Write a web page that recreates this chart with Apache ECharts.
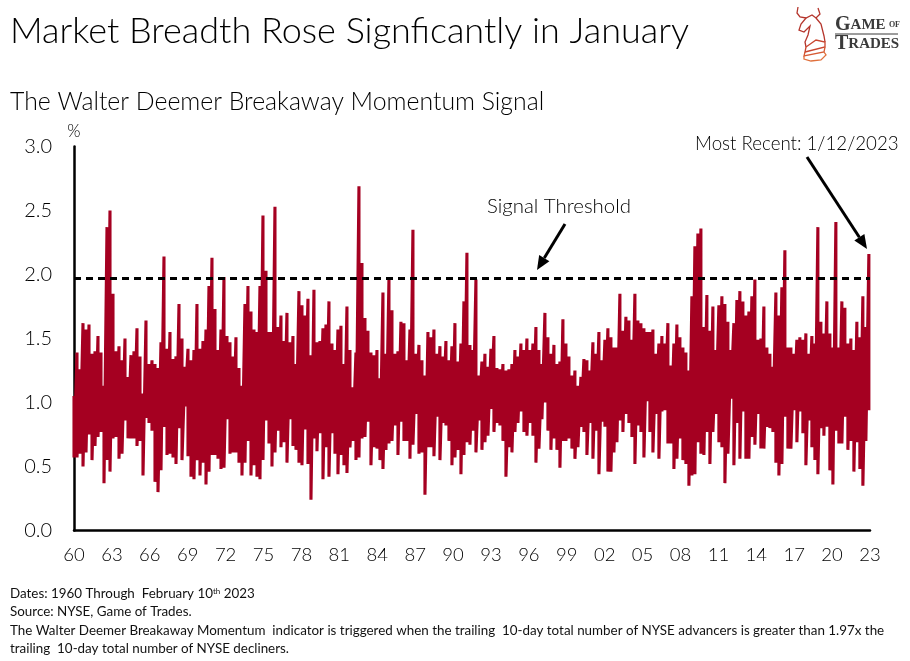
<!DOCTYPE html>
<html>
<head>
<meta charset="utf-8">
<title>Market Breadth</title>
<script src="https://cdn.jsdelivr.net/npm/echarts@6/dist/echarts.min.js"></script>
<style>
html, body { margin: 0; padding: 0; background: #fff; }
#main { width: 910px; height: 661px; }
</style>
</head>
<body>
<div id="main"></div>
<script>
// peaks and troughs, left to right, 1960 -> 2023
var highs = [
    1.05, 1.39, 1.26, 1.62, 1.57, 1.61, 1.38, 1.40, 1.52, 1.39, 1.13, 2.37, 2.50, 1.85, 1.40, 1.44, 1.33, 1.50, 1.20, 1.37,
    1.40, 1.58, 1.36, 1.07, 1.64, 1.30, 1.33, 1.30, 1.27, 1.47, 2.14, 1.42, 1.55, 1.34, 1.36, 1.77, 1.50, 1.28, 1.42, 1.33,
    1.41, 1.77, 1.42, 1.48, 1.57, 1.91, 2.13, 1.73, 1.41, 1.57, 1.98, 1.52, 1.47, 1.36, 1.51, 1.27, 1.13, 1.77, 1.91, 1.71,
    1.57, 1.55, 1.91, 2.46, 2.03, 1.55, 1.55, 2.53, 1.59, 1.68, 1.48, 1.70, 1.47, 1.52, 1.30, 1.87, 1.76, 1.68, 1.81, 1.37,
    1.88, 1.47, 1.48, 1.58, 1.61, 1.79, 1.46, 1.41, 1.57,
    1.60, 1.30, 1.75, 1.41, 1.12, 1.39, 2.69, 2.09, 1.66, 1.56, 1.39, 1.37, 1.41, 1.19, 1.86, 1.38, 1.96, 1.72, 1.38, 1.40,
    1.63, 1.62, 1.33, 1.57, 2.35, 1.38, 1.45, 1.33, 1.21, 1.55, 1.51, 1.57, 1.38, 1.44, 1.36, 1.48, 1.33, 1.44, 1.62, 1.32,
    1.46, 1.79, 2.17, 1.45, 1.41, 1.96, 1.21, 1.32, 1.38, 1.28, 1.42, 1.52, 1.27, 1.26, 1.30, 1.25, 1.26, 1.30, 1.41, 1.36,
    1.46, 1.41, 1.50, 1.41, 1.46, 1.59, 1.41, 1.30, 1.70, 1.51, 1.38, 1.45, 1.30, 1.32, 1.65, 1.46, 1.36, 1.21, 1.25, 1.13,
    1.20, 1.34, 1.33, 1.25, 1.47, 1.38, 1.55, 1.33, 1.49, 1.58,
    1.51, 1.43, 1.43, 1.85, 1.56, 1.67, 1.64, 1.49, 1.85, 1.64, 1.62, 1.58, 1.55, 1.55, 1.57, 1.38, 1.46, 1.52, 1.46, 1.62,
    1.29, 1.46, 1.61, 1.51, 1.43, 1.39, 1.25, 1.83, 2.22, 2.32, 2.36, 1.59, 1.84, 1.56, 1.75, 1.41, 1.76, 1.83, 1.77, 1.63,
    1.41, 1.62, 1.80, 1.87, 1.79, 1.68, 1.71, 1.83, 1.96, 1.49, 1.50, 1.75, 1.43, 1.38, 1.28, 1.86, 1.68, 1.90, 2.19, 1.43,
    1.43, 1.38, 1.49, 1.51, 1.49, 1.54, 1.38, 1.52, 1.46, 2.37, 1.63, 1.54, 1.79, 1.54, 1.43, 2.41, 1.43, 1.79, 1.74, 1.46,
    1.50, 1.41, 1.63, 1.51, 1.83, 1.59, 2.16
];
var lows = [
    0.57, 0.57, 0.60, 0.50, 0.61, 0.75, 0.55, 0.66, 0.73, 0.77, 0.37, 0.55, 0.46, 0.72, 0.73, 0.56, 0.60, 0.86, 0.72, 0.72,
    0.72, 0.66, 0.70, 0.43, 0.88, 0.84, 0.78, 0.38, 0.30, 0.47, 0.81, 0.59, 0.60, 0.57, 0.52, 0.80, 0.55, 0.97, 0.58, 0.42,
    0.40, 0.55, 0.43, 0.53, 0.36, 0.46, 0.59, 0.59, 0.56, 0.48, 0.49, 0.87, 0.60, 0.61, 0.61, 0.53, 0.43, 0.53, 0.70, 0.43,
    0.51, 0.42, 0.40, 0.55, 0.86, 0.68, 0.50, 0.61, 0.78, 0.65, 0.69, 0.53, 0.87, 0.66, 0.63, 0.53, 0.51, 0.79, 0.52, 0.24,
    0.72, 0.62, 0.76, 0.40, 0.65, 0.42, 0.76, 0.60, 0.44,
    0.59, 0.51, 0.45, 0.65, 0.70, 0.55, 0.57, 0.72, 0.73, 0.85, 0.51, 0.65, 0.64, 0.55, 0.48, 0.63, 0.68, 0.70, 0.82, 0.59,
    0.85, 0.70, 0.70, 0.56, 0.67, 0.91, 0.60, 0.61, 0.28, 0.65, 0.65, 0.58, 0.89, 0.55, 0.84, 0.82, 0.70, 0.51, 0.57, 0.63,
    0.44, 0.59, 0.69, 0.67, 0.78, 0.61, 0.86, 0.63, 0.69, 0.74, 0.95, 0.77, 0.84, 0.82, 0.70, 0.42, 0.65, 0.61, 0.77, 0.84,
    0.93, 0.77, 0.74, 0.84, 0.74, 0.53, 0.64, 0.87, 1.00, 0.78, 0.63, 0.72, 0.63, 0.49, 0.70, 0.70, 0.72, 0.64, 0.56, 0.65,
    0.81, 0.77, 0.59, 0.84, 0.56, 0.78, 0.44, 0.85, 0.81, 0.46,
    0.46, 0.61, 0.69, 0.86, 0.77, 0.91, 0.84, 0.73, 0.52, 0.82, 0.77, 0.57, 1.01, 0.77, 0.61, 0.91, 0.56, 0.93, 0.94, 0.68,
    0.68, 0.48, 0.56, 0.72, 0.55, 0.52, 0.35, 0.43, 0.44, 0.69, 0.60, 0.59, 0.77, 0.52, 0.77, 0.91, 0.69, 0.65, 0.37, 0.60,
    1.03, 0.51, 0.84, 0.56, 0.93, 0.56, 0.56, 0.73, 0.67, 0.91, 0.64, 0.64, 0.81, 0.80, 0.77, 0.53, 0.43, 0.52, 0.89, 0.64,
    0.64, 0.94, 0.69, 0.93, 0.76, 0.51, 0.86, 0.65, 0.55, 0.44, 0.80, 0.74, 0.81, 0.47, 0.36, 0.78, 0.68, 0.68, 0.89, 0.63,
    0.70, 0.46, 0.69, 0.48, 0.35, 0.70, 0.94
];
var yearTicks = ['60', '63', '66', '69', '72', '75', '78', '81', '84', '87', '90', '93', '96', '99', '02', '05', '08', '11', '14', '17', '20', '23'];
var thresholdValue = 1.97;
var footnotes = [
    '{n|Dates: 1960 Through  February 10}{s|th}{n| 2023}',
    '{n|Source: NYSE, Game of Trades.}',
    '{n|The Walter Deemer Breakaway Momentum  indicator is triggered when the trailing  10-day total number of NYSE advancers is greater than 1.97x the}',
    '{n|trailing  10-day total number of NYSE decliners.}'
];

var FONT = 'Lato';
var RED = '#a50021';
var YEARS_PER_COLUMN = 0.2374; // about 4 columns a year

// line goes peak -> trough -> next peak, like the daily readings do
var breadth = [];
for (var i = 0; i < highs.length; i++) {
    breadth.push([i * YEARS_PER_COLUMN, highs[i]]);
    breadth.push([i * YEARS_PER_COLUMN, lows[i]]);
}

function arrow(x1, y1, x2, y2) {
    var a = Math.atan2(y2 - y1, x2 - x1);
    var len = 14, wid = 6;
    var bx = x2 - len * Math.cos(a), by = y2 - len * Math.sin(a);
    return [
        {type: 'line', shape: {x1: x1, y1: y1, x2: bx, y2: by}, style: {stroke: '#000', lineWidth: 3}},
        {type: 'polygon', shape: {points: [
            [x2, y2],
            [bx + wid * Math.sin(a), by - wid * Math.cos(a)],
            [bx - wid * Math.sin(a), by + wid * Math.cos(a)]
        ]}, style: {fill: '#000'}}
    ];
}

function label(text, x, y, size) {
    return {type: 'text', x: x, y: y, style: {text: text, font: '300 ' + size + 'px ' + FONT, fill: '#000', textVerticalAlign: 'middle'}};
}

var graphics = [
    label('Signal Threshold', 487, 206, 20.4),
    label('Most Recent: 1/12/2023', 695, 144, 18.7)
];
graphics = graphics.concat(arrow(565, 224, 537, 270), arrow(807, 157, 867, 249));

footnotes.forEach(function (line, n) {
    graphics.push({
        type: 'text', x: 10, y: [594, 612, 631, 649][n],
        style: {
            text: line, verticalAlign: 'middle',
            rich: {
                n: {font: '400 13.4px ' + FONT, fill: '#111'},
                s: {font: '400 8px ' + FONT, fill: '#111', verticalAlign: 'top', padding: [0, 0, 5, 0]}
            }
        }
    });
});

// logo, knight with bull horns + wordmark
[
    {c: '#b5352c', p: [[798, 7], [797, 13], [800, 17], [806, 18], [812, 15], [816, 18], [820, 14], [818, 8]]},
    {c: '#b5352c', p: [[806, 18], [801, 24], [799, 30], [804, 32], [810, 26], [808, 35], [805, 42], [806, 47]]},
    {c: '#b5352c', p: [[816, 18], [821, 24], [824, 36], [825, 42]]},
    {c: '#c8452f', p: [[806, 47], [816, 40], [825, 42], [825, 47], [805, 52], [806, 47]]},
    {c: '#d65a34', p: [[805, 52], [804, 56], [824, 52], [825, 47]]},
    {c: '#e0703c', p: [[804, 56], [804, 59], [811, 61], [821, 60], [826, 55], [824, 52]]}
].forEach(function (piece) {
    graphics.push({type: 'polyline', shape: {points: piece.p}, style: {stroke: piece.c, lineWidth: 1.3, fill: null}});
});
var wordmark = '#3a3a3a';
graphics.push({
    type: 'text', x: 835, y: 25,
    style: {
        text: '{b|G}{c|AME} {o|OF}', verticalAlign: 'middle',
        rich: {
            b: {font: '700 20px "Liberation Serif"', fill: wordmark},
            c: {font: '700 15px "Liberation Serif"', fill: wordmark},
            o: {font: '700 8px "Liberation Serif"', fill: wordmark}
        }
    }
});
graphics.push({type: 'line', shape: {x1: 835, y1: 34, x2: 898, y2: 34}, style: {stroke: wordmark, lineWidth: 1}});
graphics.push({
    type: 'text', x: 835, y: 44,
    style: {
        text: '{b|T}{c|RADES}', verticalAlign: 'middle',
        rich: {
            b: {font: '700 20px "Liberation Serif"', fill: wordmark},
            c: {font: '700 15px "Liberation Serif"', fill: wordmark}
        }
    }
});

var chart = echarts.init(document.getElementById('main'));
chart.setOption({
    animation: false,
    backgroundColor: '#fff',
    title: [
        {text: 'Market Breadth Rose Signficantly in January', left: 10, top: 13, padding: 0, textStyle: {fontFamily: FONT, fontWeight: 300, fontSize: 36, color: '#000'}},
        {text: 'The Walter Deemer Breakaway Momentum Signal', left: 10, top: 90, padding: 0, textStyle: {fontFamily: FONT, fontWeight: 300, fontSize: 24.8, color: '#000'}}
    ],
    grid: {left: 74, top: 146.5, width: 796, height: 384},
    xAxis: {
        type: 'value', min: 0, max: 63, interval: 3,
        splitLine: {show: false},
        axisTick: {show: false},
        axisLine: {lineStyle: {color: '#000', width: 2.5}},
        axisLabel: {
            margin: 15, fontFamily: FONT, fontWeight: 300, fontSize: 18.5, color: '#000',
            formatter: function (v) { return yearTicks[v / 3]; }
        }
    },
    yAxis: {
        type: 'value', min: 0, max: 3, interval: 0.5,
        name: '%', nameLocation: 'end', nameGap: 6,
        nameTextStyle: {fontFamily: FONT, fontWeight: 300, fontSize: 17, color: '#000'},
        splitLine: {show: false},
        axisTick: {show: false},
        axisLine: {show: true, lineStyle: {color: '#000', width: 2.5}},
        axisLabel: {
            margin: 22, fontFamily: FONT, fontWeight: 300, fontSize: 20, color: '#000',
            formatter: function (v) { return v.toFixed(1); }
        }
    },
    series: [{
        type: 'line',
        data: breadth,
        showSymbol: false,
        silent: true,
        lineStyle: {color: RED, width: 3.1, join: 'bevel'},
        markLine: {
            silent: true,
            symbol: 'none',
            label: {show: false},
            lineStyle: {color: '#000', width: 3.2, type: [7, 5]},
            data: [{yAxis: thresholdValue}]
        }
    }],
    graphic: graphics
});
</script>
</body>
</html>
